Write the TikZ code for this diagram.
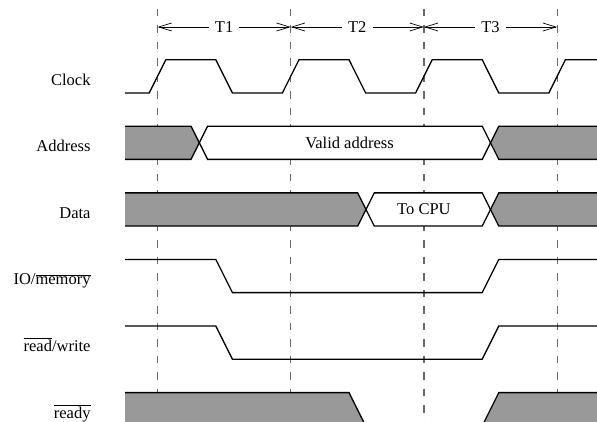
\documentclass[tikz,border=0pt]{standalone}
\usepackage{fontspec}
\setmainfont{Liberation Serif}
\usetikzlibrary{arrows.meta}
\definecolor{busgray}{RGB}{153,153,153}
\definecolor{tickgray}{RGB}{105,105,105}
\begin{document}
\begin{tikzpicture}[x=1pt, y=-1pt,
    every node/.style={font=\fontsize{16.5}{20}\selectfont, inner sep=0pt},
    sig/.style={line width=1.3pt, line join=miter},
    bus/.style={fill=busgray},
    valid/.style={fill=white},
    tick/.style={tickgray, line width=1.2pt, dash pattern=on 7.5pt off 9pt},
    tarrow/.style={line width=0.7pt, -{Straight Barb[length=13pt, width=8pt]}},
    tlab/.style={inner xsep=6pt},
    siglab/.style={anchor=base east}]
        \clip (0,0) rectangle (597,422);
        
        % Dashed period markers, with a named point on the arrow row
        \foreach \d [count=\i] in {157.5, 290.7, 423.9, 557.1} {
            \draw[tick] (\d,9) -- (\d,422);
            \coordinate (top\i) at (\d,27);
        }
        
        % Period labels with arrows out to the markers
        \node[tlab] (t1) at (224.1,27) {T1};
        \node[tlab] (t2) at (357.3,27) {T2};
        \node[tlab] (t3) at (490.5,27) {T3};
        \draw[tarrow] (t1) -- (top1);
        \draw[tarrow] (t1) -- (top2);
        \draw[tarrow] (t2) -- (top2);
        \draw[tarrow] (t2) -- (top3);
        \draw[tarrow] (t3) -- (top3);
        \draw[tarrow] (t3) -- (top4);
        
        % Signal names
        \node[siglab] (clk)  at (90.7,85.1)  {Clock};
        \node[siglab] (addr) at (90.7,151.6) {Address};
        \node[siglab] (data) at (90.7,218.3) {Data};
        \node[siglab] (iom)  at (90.7,284.8) {IO/$\overline{\mbox{memory}}$};
        \node[siglab] (rw)   at (90.7,351.4) {$\overline{\mbox{read}}$/write};
        \node[siglab] (rdy)  at (90.7,418.0) {$\overline{\mbox{ready}}$};
        
        % Clock
        \draw[sig] (125,93) \foreach \d in {157.5, 290.7, 423.9} {
            -- ({\d-8.3},93) -- ({\d+8.3},59.7) -- ({\d+58.3},59.7) -- ({\d+74.9},93)
        } -- (548.8,93) -- (565.4,59.7) -- (600,59.7);
        
        % Address bus
        \fill[bus] (125,126.2) -- (191,126.2) -- (199.3,142.8) -- (191,159.4) -- (125,159.4) -- cycle;
        \draw[sig] (125,126.2) -- (191,126.2) -- (199.3,142.8) -- (191,159.4) -- (125,159.4);
        \draw[sig, valid] (199.3,142.8) -- (207.6,126.2) -- (482.2,126.2) -- (490.5,142.8)
            -- (482.2,159.4) -- (207.6,159.4) -- cycle;
        \draw[sig, bus] (600,126.2) -- (498.8,126.2) -- (490.5,142.8) -- (498.8,159.4) -- (600,159.4);
        \node (valaddr) at (349.5,142.8) {Valid address};
        
        % Data bus
        \fill[bus] (125,192.9) -- (357.7,192.9) -- (366,209.5) -- (357.7,226.1) -- (125,226.1) -- cycle;
        \draw[sig] (125,192.9) -- (357.7,192.9) -- (366,209.5) -- (357.7,226.1) -- (125,226.1);
        \draw[sig, valid] (366,209.5) -- (374.3,192.9) -- (482.2,192.9) -- (490.5,209.5)
            -- (482.2,226.1) -- (374.3,226.1) -- cycle;
        \draw[sig, bus] (600,192.9) -- (498.8,192.9) -- (490.5,209.5) -- (498.8,226.1) -- (600,226.1);
        \node (tocpu) at (423.9,209.5) {To CPU};
        
        % IO/memory and read/write
        \draw[sig] (125,259.4) -- (215.8,259.4) -- (232.4,292.6) -- (482.2,292.6) -- (498.8,259.4) -- (600,259.4);
        \draw[sig] (125,326) -- (215.8,326) -- (232.4,359.2) -- (482.2,359.2) -- (498.8,326) -- (600,326);
        
        % ready
        \fill[bus] (125,392.6) -- (349,392.6) -- (365.6,425.8) -- (125,425.8) -- cycle;
        \draw[sig] (125,392.6) -- (349,392.6) -- (365.6,425.8);
        \fill[bus] (482.2,425.8) -- (498.8,392.6) -- (600,392.6) -- (600,425.8) -- cycle;
        \draw[sig] (482.2,425.8) -- (498.8,392.6) -- (600,392.6);
\end{tikzpicture}
\end{document}
